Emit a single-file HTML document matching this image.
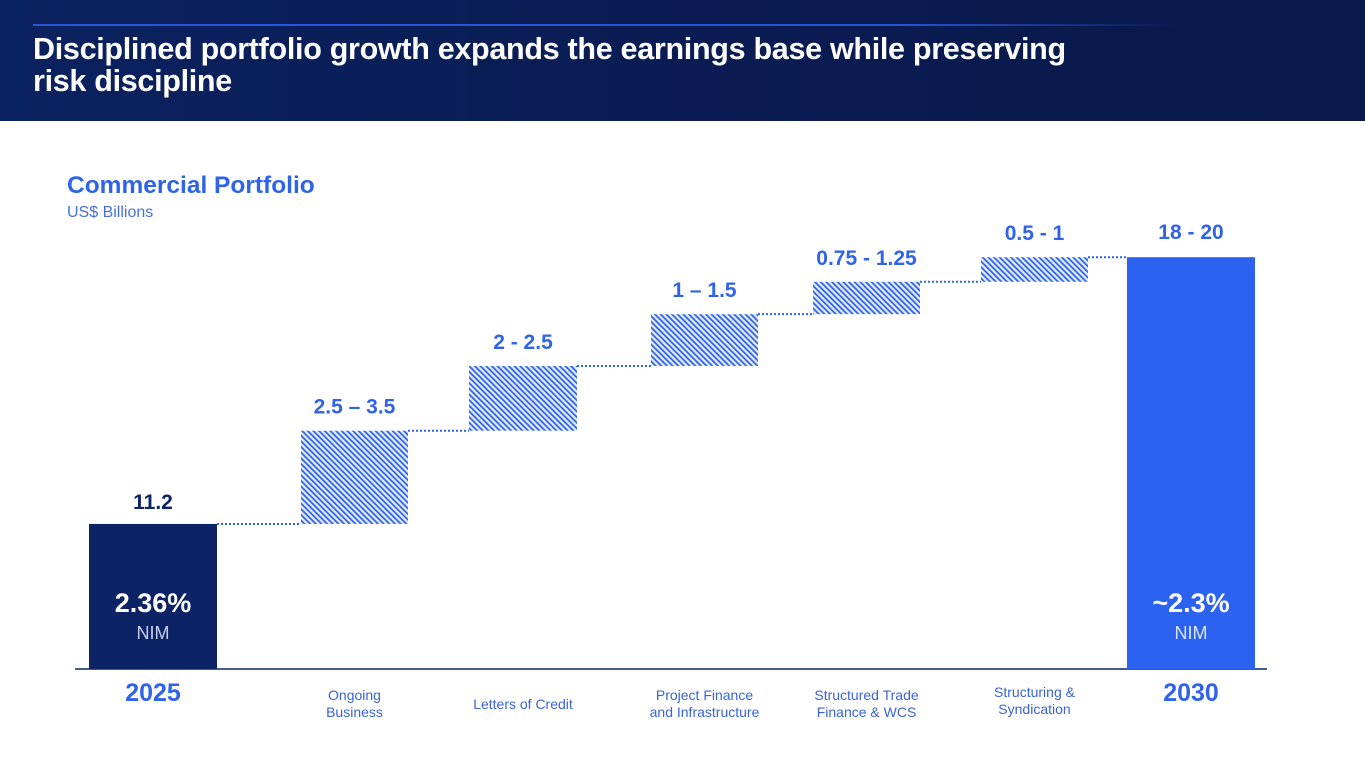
<!DOCTYPE html>
<html><head><meta charset="utf-8">
<style>
html,body{margin:0;padding:0;width:1365px;height:768px;overflow:hidden;background:#fff;font-family:"Liberation Sans",sans-serif}
#hdr{position:absolute;left:0;top:0;width:1365px;height:121px;background:linear-gradient(90deg,#0b2260 0%,#0a1d55 40%,#08184a 100%)}
#rule{position:absolute;left:33px;top:24px;width:1150px;height:2px;background:linear-gradient(90deg,#2a55d6 0%,#2a55d6 75%,rgba(42,85,214,0) 100%)}
#title{position:absolute;left:33px;top:33px;color:#fff;font-size:30.5px;font-weight:bold;line-height:32px;letter-spacing:-0.3px}
#sub1{position:absolute;left:67px;top:172px;color:#2f63e8;font-size:24.5px;font-weight:bold}
#sub2{position:absolute;left:67px;top:204px;color:#4a6fd8;font-size:16px}
svg{position:absolute;left:0;top:0}
</style></head><body>
<div id="hdr"></div>
<div id="rule"></div>
<div id="title">Disciplined portfolio growth expands the earnings base while preserving<br>risk discipline</div>
<div id="sub1">Commercial Portfolio</div>
<div id="sub2">US$ Billions</div>
<svg id="chart" width="1365" height="768">
<defs>
<pattern id="hatch" width="4" height="4" patternUnits="userSpaceOnUse" patternTransform="rotate(-45)">
<rect width="4" height="4" fill="#e4ecfd"/>
<rect width="1.8" height="4" fill="#2f63e8"/>
</pattern>
</defs>
</svg>
<script>
const categories=["2025","Ongoing|Business","Letters of Credit","Project Finance|and Infrastructure","Structured Trade|Finance & WCS","Structuring &|Syndication","2030"];
const startValue=11.2;
const deltas=[7.2,5.0,4.0,2.5,1.9];
const valueLabels=["11.2","2.5 – 3.5","2 - 2.5","1 – 1.5","0.75 - 1.25","0.5 - 1","18 - 20"];
const nimLabels=["2.36%","~2.3%"];
// layout
const centers=[153,354.5,523,704.5,866.5,1034.5,1191];
const widths=[128,107,108,107,107,107,128];
const baseY=669, pxPerUnit=12.95;
function y(v){return baseY-v*pxPerUnit;}
const svg=document.getElementById('chart');
const NS='http://www.w3.org/2000/svg';
function mk(t,a){const e=document.createElementNS(NS,t);for(const k in a)e.setAttribute(k,a[k]);svg.appendChild(e);return e;}
function txt(x,yy,s,size,fill,weight,name){const t=mk('text',{x:x,y:yy,'text-anchor':'middle','font-size':size,fill:fill,'font-weight':weight,'font-family':'Liberation Sans, sans-serif'});t.textContent=s;


return t;}
const ax=mk('line',{x1:75,x2:1267,y1:baseY,y2:baseY,stroke:'#0d2463','stroke-width':1.5});


let cum=startValue;
const b0=mk('rect',{x:centers[0]-widths[0]/2,y:y(cum),width:widths[0],height:baseY-y(cum),fill:'#0c2366'});


txt(centers[0],y(cum)-15,valueLabels[0],21,'#0c2366','bold','value-label-2025');
for(let i=0;i<deltas.length;i++){
  const lo=cum, hi=cum+deltas[i];
  const c=centers[i+1],w=widths[i+1];
  const prevRight=centers[i]+widths[i]/2;
  const con=mk('line',{x1:prevRight,x2:c-w/2,y1:y(lo),y2:y(lo),stroke:'#2f63e8','stroke-width':2,'stroke-dasharray':'2,2'});
  
  
  const r=mk('rect',{x:c-w/2,y:y(hi),width:w,height:y(lo)-y(hi),fill:'url(#hatch)'});
  
  
  txt(c,y(hi)-17,valueLabels[i+1],21,'#2f63e8','bold','value-label');
  cum=hi;
}
const last=centers.length-1;
const con2=mk('line',{x1:centers[last-1]+widths[last-1]/2,x2:centers[last]-widths[last]/2,y1:y(cum),y2:y(cum),stroke:'#2f63e8','stroke-width':2,'stroke-dasharray':'2,2'});


const b1=mk('rect',{x:centers[last]-widths[last]/2,y:y(cum),width:widths[last],height:baseY-y(cum),fill:'#2b62ef'});


txt(centers[last],y(cum)-18,valueLabels[last],21,'#2f63e8','bold','value-label-2030');
txt(centers[0],612,nimLabels[0],27,'#fff','bold','nim-value-2025');
txt(centers[0],639,'NIM',18,'#c5d0ea','normal','nim-label-2025');
txt(centers[last],612,nimLabels[1],27,'#fff','bold','nim-value-2030');
txt(centers[last],639,'NIM',18,'#dbe5ff','normal','nim-label-2030');
categories.forEach((c,i)=>{
  if(i===0||i===last){txt(centers[i],701,c,25,'#2f63e8','bold','x-label-year');return;}
  const parts=c.split('|');
  const top=parts.length===1?709:(i===5?697:700);
  parts.forEach((p,j)=>txt(centers[i],top+j*17,p,14,'#3a64d6','normal','x-axis-label'));
});
</script>
</body></html>
